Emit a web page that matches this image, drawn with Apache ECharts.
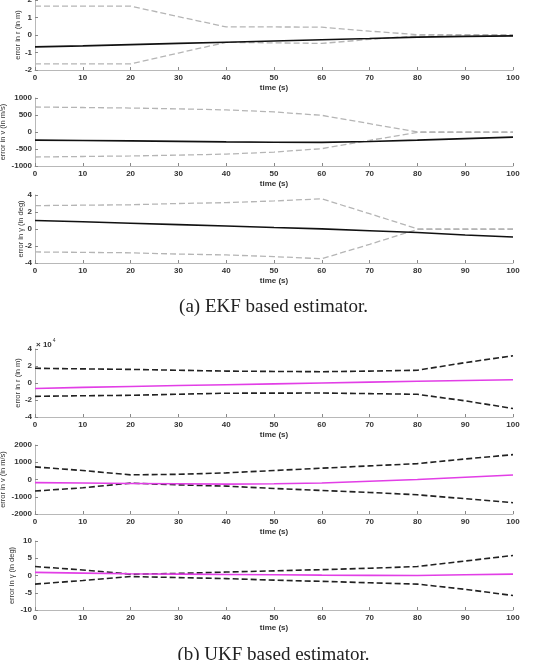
<!DOCTYPE html>
<html>
<head>
<meta charset="utf-8">
<script src="https://cdn.jsdelivr.net/npm/echarts@6/dist/echarts.min.js"></script>
<style>
  html, body { margin: 0; padding: 0; background: #fff; }
  #chart { width: 547px; height: 660px; }
</style>
</head>
<body>
<div id="chart"></div>
<script>
// time axis shared by every panel
const times = [0, 10, 20, 30, 40, 50, 60, 70, 80, 90, 100];

// (a) EKF — error in r (m)
const ekfR = [-0.68, -0.62, -0.55, -0.48, -0.41, -0.34, -0.27, -0.2, -0.12, -0.08, -0.05];
const ekfRUp = [1.65, 1.65, 1.65, 1.05, 0.46, 0.46, 0.45, 0.22, 0.02, 0.02, 0.02];
const ekfRLo = [-1.65, -1.65, -1.65, -1.03, -0.42, -0.45, -0.48, -0.25, -0.05, -0.05, -0.05];
// (a) EKF — error in v (m/s)
const ekfV = [-240, -250, -262, -275, -290, -300, -305, -280, -240, -195, -150];
const ekfVUp = [735, 720, 705, 680, 650, 590, 490, 245, 0, 0, 0];
const ekfVLo = [-735, -720, -705, -680, -650, -590, -490, -245, -10, -10, -10];
// (a) EKF — error in gamma (deg)
const ekfG = [1.0, 0.85, 0.68, 0.52, 0.35, 0.18, 0.02, -0.2, -0.42, -0.7, -0.95];
const ekfGUp = [2.75, 2.8, 2.85, 3.0, 3.1, 3.3, 3.55, 1.8, 0.02, 0.02, 0.02];
const ekfGLo = [-2.7, -2.75, -2.8, -2.95, -3.05, -3.25, -3.5, -1.8, -0.05, -0.05, -0.05];

// (b) UKF — error in r (x 10^4 m)
const ukfR = [-0.65, -0.52, -0.41, -0.3, -0.2, -0.1, 0.0, 0.1, 0.2, 0.3, 0.38];
const ukfRUp = [1.73, 1.66, 1.6, 1.5, 1.4, 1.36, 1.33, 1.4, 1.5, 2.4, 3.2];
const ukfRLo = [-1.57, -1.5, -1.45, -1.32, -1.2, -1.19, -1.18, -1.25, -1.33, -2.1, -3.0];
// (b) UKF — error in v (m/s)
const ukfV = [-180, -200, -230, -250, -270, -250, -200, -100, 0, 130, 260];
const ukfVUp = [730, 520, 270, 300, 385, 520, 655, 790, 920, 1190, 1440];
const ukfVLo = [-670, -480, -210, -310, -385, -520, -635, -750, -885, -1115, -1345];
// (b) UKF — error in gamma (deg)
const ukfG = [0.9, 0.7, 0.5, 0.4, 0.3, 0.2, 0.1, 0.05, 0.0, 0.2, 0.4];
const ukfGUp = [2.6, 1.6, 0.4, 0.6, 1.0, 1.35, 1.7, 2.1, 2.6, 4.2, 5.8];
const ukfGLo = [-2.5, -1.45, -0.3, -0.6, -0.9, -1.35, -1.7, -2.1, -2.5, -4.0, -5.8];

const yNames = ['error in r (in m)', 'error in v (in m/s)', 'error in \u03b3 (in deg)',
                'error in r (in m)', 'error in v (in m/s)', 'error in \u03b3 (in deg)'];
const yMin = [-2, -1000, -4, -4, -2000, -10];
const yMax = [2, 1000, 4, 4, 2000, 10];
const yStep = [1, 500, 2, 2, 1000, 5];

const panels = [
  [ekfR, ekfRUp, ekfRLo], [ekfV, ekfVUp, ekfVLo], [ekfG, ekfGUp, ekfGLo],
  [ukfR, ukfRUp, ukfRLo], [ukfV, ukfVUp, ukfVLo], [ukfG, ukfGUp, ukfGLo]
];

const tops = [0, 98, 195, 349, 445, 541];
const heights = [70, 68, 68, 68, 69, 69];
const nameGaps = [13, 28, 10, 13, 28, 19];

const font = 'Liberation Sans, Arial, sans-serif';
const axisGray = '#b8b8b8';

const chart = echarts.init(document.getElementById('chart'));

const pairs = arr => arr.map((v, i) => [times[i], v]);

let grid = [], xAxis = [], yAxis = [], series = [];
panels.forEach((p, i) => {
  grid.push({left: 35, right: 34, top: tops[i], height: heights[i],
             containLabel: false, outerBoundsMode: 'none'});
  xAxis.push({
    type: 'value', gridIndex: i, min: 0, max: 100, interval: 10,
    name: 'time (s)', nameLocation: 'middle', nameGap: 14, nameMoveOverlap: false,
    nameTextStyle: {fontSize: 8, fontWeight: 'bold', color: '#333', fontFamily: font},
    axisLine: {onZero: false, lineStyle: {color: axisGray, width: 1}},
    axisTick: {inside: true, length: 3, lineStyle: {color: '#888'}},
    axisLabel: {fontSize: 8, fontWeight: 'bold', color: '#333', margin: 4, fontFamily: font},
    splitLine: {show: false}
  });
  yAxis.push({
    type: 'value', gridIndex: i, min: yMin[i], max: yMax[i], interval: yStep[i],
    name: yNames[i], nameLocation: 'middle', nameGap: nameGaps[i], nameRotate: 90,
    nameMoveOverlap: false,
    nameTextStyle: {fontSize: 7.5, color: '#333', fontFamily: font},
    axisLine: {show: true, onZero: false, lineStyle: {color: axisGray, width: 1}},
    axisTick: {show: true, inside: true, length: 3, lineStyle: {color: '#888'}},
    axisLabel: {fontSize: 8, fontWeight: 'bold', color: '#333', margin: 3, fontFamily: font,
                formatter: v => String(v)},
    splitLine: {show: false}
  });
  const ukf = i >= 3;
  const bandStyle = ukf
    ? {color: '#222', width: 1.6, type: [6, 3]}
    : {color: '#b5b5b5', width: 1.3, type: [6, 3]};
  const mainStyle = ukf
    ? {color: '#e23ee6', width: 1.6}
    : {color: '#111', width: 1.6};
  [p[1], p[2]].forEach(d => series.push({
    type: 'line', xAxisIndex: i, yAxisIndex: i, data: pairs(d),
    showSymbol: false, lineStyle: bandStyle, silent: true, z: 2
  }));
  series.push({
    type: 'line', xAxisIndex: i, yAxisIndex: i, data: pairs(p[0]),
    showSymbol: false, lineStyle: mainStyle, silent: true, z: 3
  });
});

const option = {
  animation: false,
  backgroundColor: '#fff',
  grid: grid,
  xAxis: xAxis,
  yAxis: yAxis,
  series: series,
  graphic: [
    {
      type: 'text', left: 36, top: 338,
      style: {
        text: '{a|\u00d7 10}{b|4}',
        rich: {
          a: {fontSize: 8, fontWeight: 'bold', fill: '#333', fontFamily: font, verticalAlign: 'bottom'},
          b: {fontSize: 5, fill: '#333', fontFamily: font, verticalAlign: 'top', padding: [0, 0, 6, 1]}
        }
      }
    },
    {
      type: 'text', left: 'center', top: 298,
      style: {text: '(a) EKF based estimator.', fontSize: 19, fill: '#222',
              fontFamily: 'Liberation Serif, serif'}
    },
    {
      type: 'text', left: 'center', top: 646,
      style: {text: '(b) UKF based estimator.', fontSize: 19, fill: '#222',
              fontFamily: 'Liberation Serif, serif'}
    }
  ]
};

chart.setOption(option);
</script>
</body>
</html>
